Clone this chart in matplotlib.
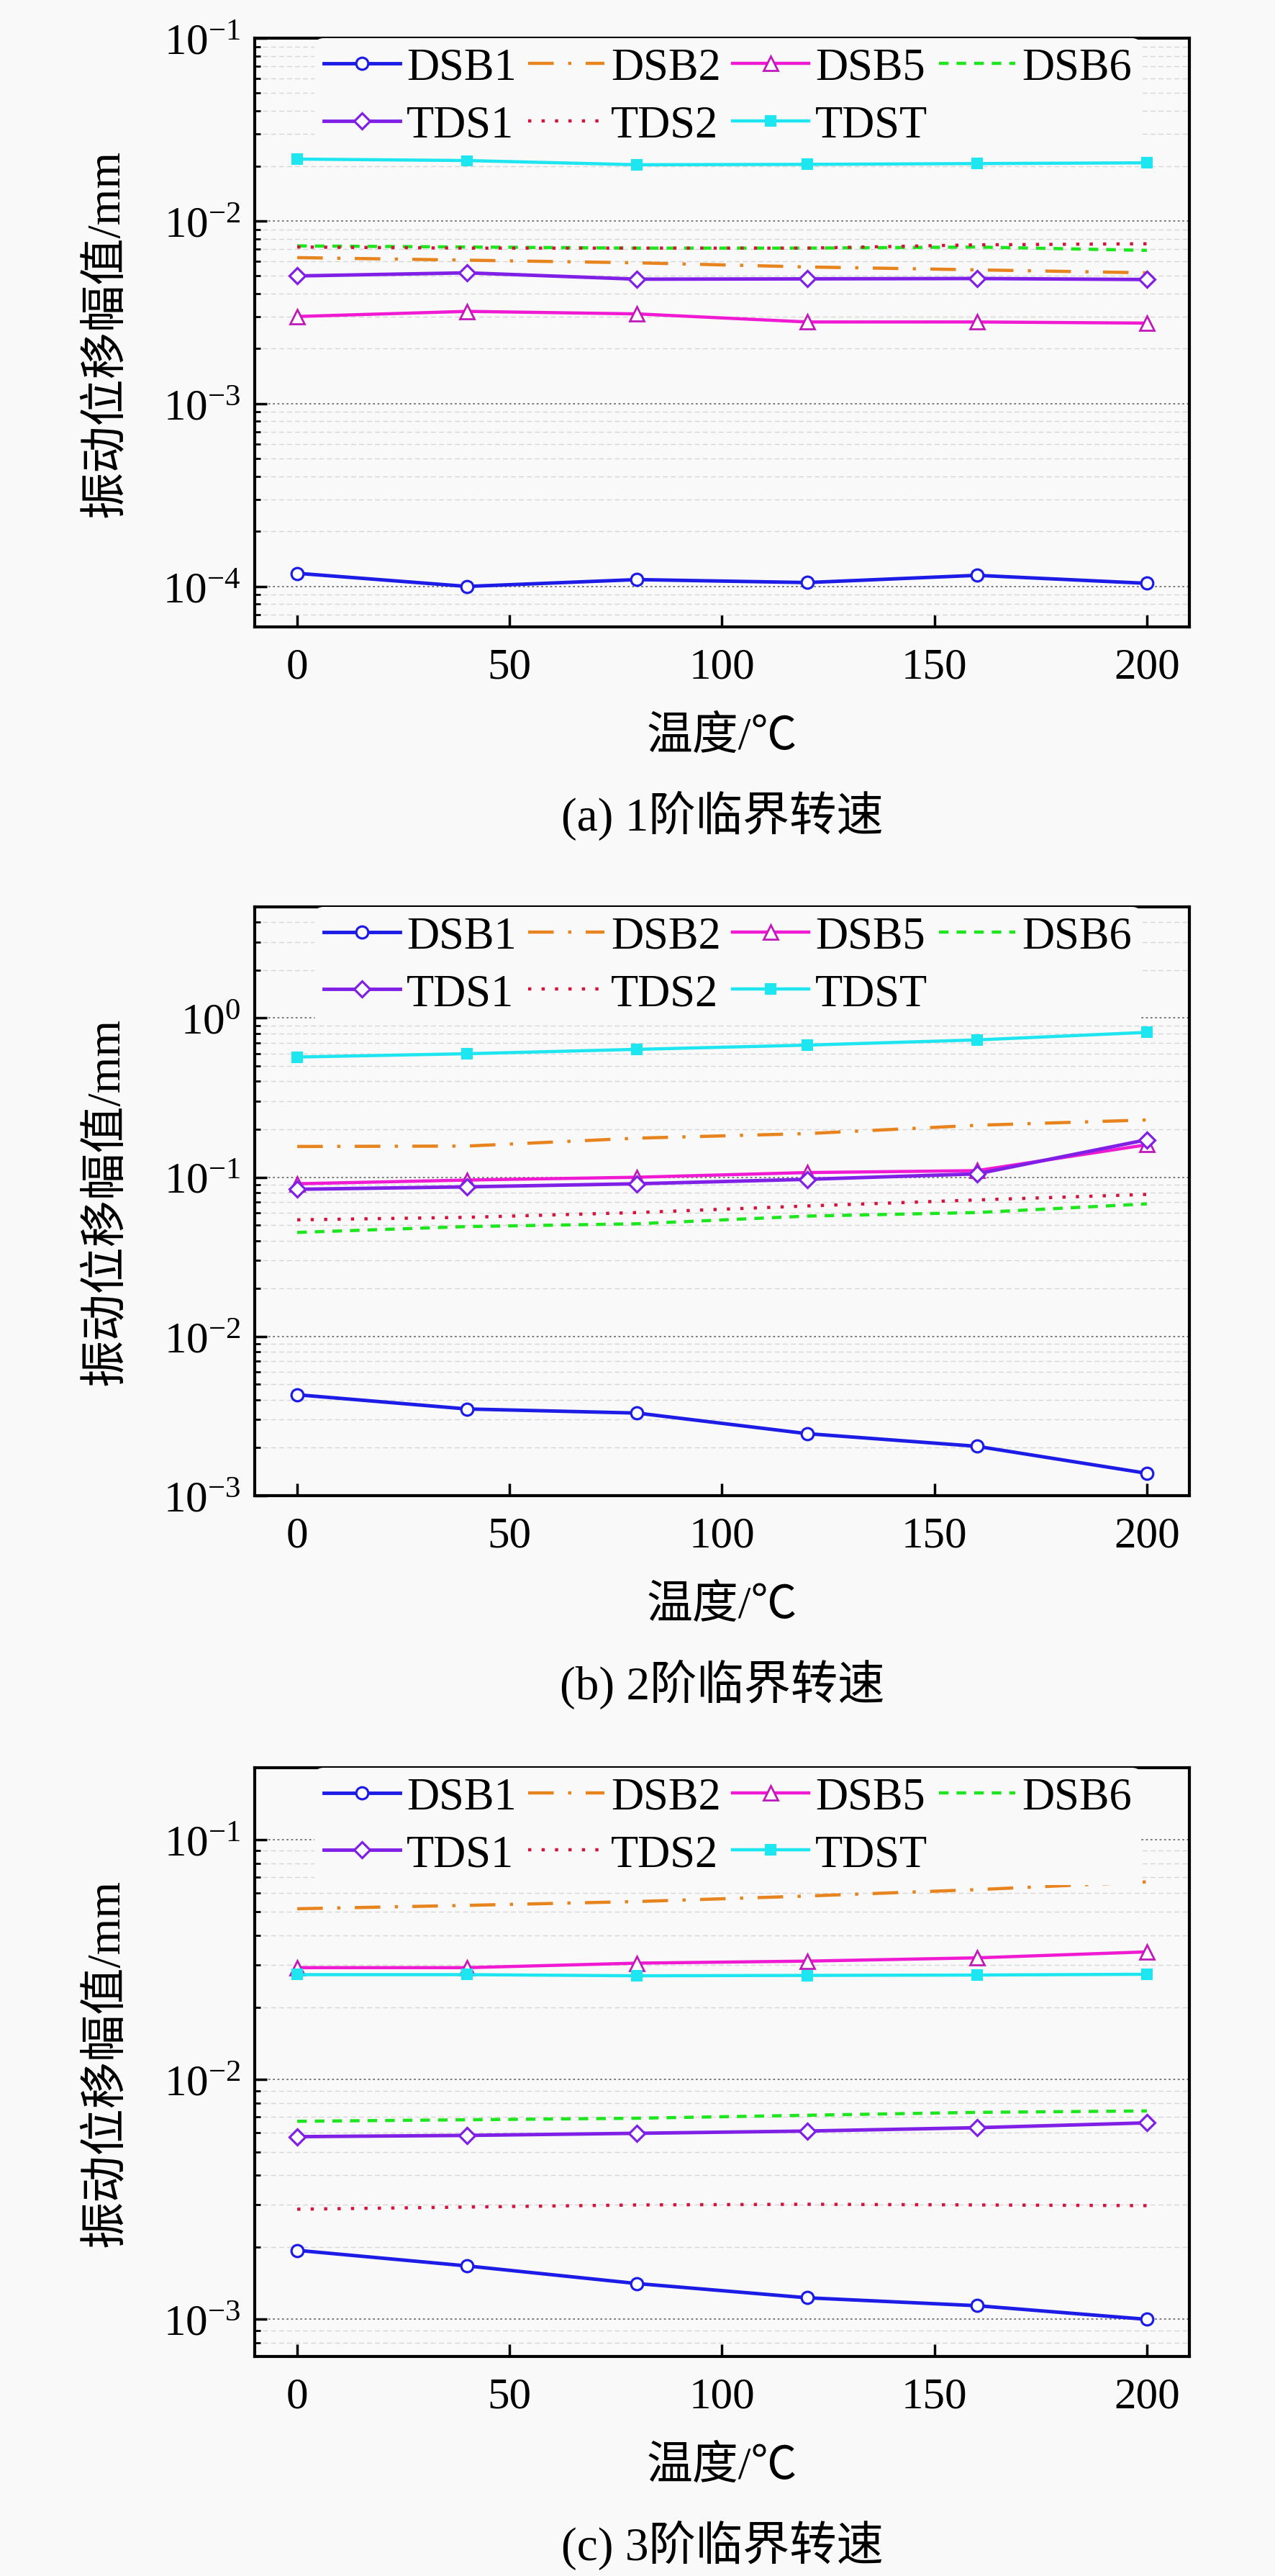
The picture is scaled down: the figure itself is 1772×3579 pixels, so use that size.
import matplotlib
matplotlib.use('Agg')
import matplotlib.pyplot as plt
from matplotlib.ticker import LogLocator, NullFormatter

plt.rcParams['font.family'] = ['Liberation Serif', 'Noto Sans CJK SC']
plt.rcParams['mathtext.fontset'] = 'custom'
plt.rcParams['mathtext.rm'] = 'Liberation Serif'
plt.rcParams['mathtext.it'] = 'Liberation Serif:italic'
plt.rcParams['axes.unicode_minus'] = True

# temperature (deg C)
temps = [0, 40, 80, 120, 160, 200]
names = ['DSB1', 'DSB2', 'DSB5', 'DSB6', 'TDS1', 'TDS2', 'TDST']

# (a) 1st critical speed
m1_dsb1 = [1.18e-4, 1.00e-4, 1.09e-4, 1.05e-4, 1.15e-4, 1.04e-4]
m1_dsb2 = [0.0063, 0.0061, 0.0059, 0.0056, 0.0054, 0.0052]
m1_dsb5 = [0.0030, 0.0032, 0.0031, 0.0028, 0.0028, 0.00276]
m1_dsb6 = [0.0073, 0.0072, 0.0071, 0.0071, 0.0072, 0.0069]
m1_tds1 = [0.0050, 0.0052, 0.0048, 0.00482, 0.00484, 0.00478]
m1_tds2 = [0.0072, 0.0071, 0.0071, 0.0071, 0.0074, 0.0075]
m1_tdst = [0.0218, 0.0214, 0.0203, 0.0204, 0.0206, 0.0208]

# (b) 2nd critical speed
m2_dsb1 = [0.0043, 0.0035, 0.0033, 0.00245, 0.00204, 0.00138]
m2_dsb2 = [0.156, 0.157, 0.176, 0.188, 0.212, 0.229]
m2_dsb5 = [0.091, 0.096, 0.100, 0.107, 0.110, 0.160]
m2_dsb6 = [0.045, 0.049, 0.051, 0.057, 0.060, 0.068]
m2_tds1 = [0.084, 0.087, 0.091, 0.097, 0.105, 0.172]
m2_tds2 = [0.054, 0.056, 0.060, 0.066, 0.072, 0.078]
m2_tdst = [0.569, 0.597, 0.636, 0.676, 0.729, 0.813]

# (c) 3rd critical speed
m3_dsb1 = [0.00194, 0.00167, 0.00141, 0.00123, 0.00114, 0.00100]
m3_dsb2 = [0.0516, 0.0533, 0.0553, 0.0583, 0.0620, 0.0668]
m3_dsb5 = [0.0293, 0.0293, 0.0306, 0.0312, 0.0322, 0.0341]
m3_dsb6 = [0.0067, 0.0068, 0.0069, 0.0071, 0.0073, 0.0074]
m3_tds1 = [0.00578, 0.00585, 0.00597, 0.0061, 0.0063, 0.0066]
m3_tds2 = [0.00288, 0.00294, 0.00300, 0.00302, 0.00300, 0.00298]
m3_tdst = [0.0274, 0.0274, 0.0271, 0.0272, 0.0273, 0.0275]

captions = ['(a) 1阶临界转速', '(b) 2阶临界转速', '(c) 3阶临界转速']
ylims = [(6e-5, 0.1), (1e-3, 5.0), (7e-4, 0.2)]
panels = [
    [m1_dsb1, m1_dsb2, m1_dsb5, m1_dsb6, m1_tds1, m1_tds2, m1_tdst],
    [m2_dsb1, m2_dsb2, m2_dsb5, m2_dsb6, m2_tds1, m2_tds2, m2_tdst],
    [m3_dsb1, m3_dsb2, m3_dsb5, m3_dsb6, m3_tds1, m3_tds2, m3_tdst],
]

bg = '#f9f9f9'
styles = {
    'DSB1': dict(color='#1c1ce6', ls='-', lw=3.5, marker='o', ms=12,
                 mfc='white', mec='#1c1ce6', mew=2.3),
    'DSB2': dict(color='#e8841e', ls=(0, (8, 4.5, 1, 4.5)), lw=3.2),
    'DSB5': dict(color='#f01ad2', ls='-', lw=3.2, marker='^', ms=14,
                 mfc='white', mec='#c01ab8', mew=2.0),
    'DSB6': dict(color='#1ee61e', ls=(0, (3, 2.5)), lw=3.2),
    'TDS1': dict(color='#8020e6', ls='-', lw=3.5, marker='D', ms=11,
                 mfc='white', mec='#8020e6', mew=2.3),
    'TDS2': dict(color='#d4143c', ls=(0, (1, 3.2)), lw=3.2),
    'TDST': dict(color='#1ee6f0', ls='-', lw=3.2, marker='s', ms=10.5,
                 mfc='#1ee6f0', mec='#1ee6f0', mew=1.5),
}

fig = plt.figure(figsize=(17.72, 35.80), dpi=100, facecolor=bg)
left, width = 0.1998, 0.733
bottoms = [0.7564, 0.4193, 0.0852]
height = 0.2285

for i in range(3):
    ax = fig.add_axes([left, bottoms[i], width, height])
    ax.set_facecolor(bg)
    handles = []
    for name, vals in zip(names, panels[i]):
        h, = ax.plot(temps, vals, label=name, **styles[name])
        handles.append(h)
    ax.set_yscale('log')
    ax.set_xlim(-10, 210)
    ax.set_ylim(*ylims[i])
    ax.set_xticks([0, 50, 100, 150, 200])
    ax.yaxis.set_major_locator(LogLocator(base=10, numticks=20))
    ax.yaxis.set_minor_locator(LogLocator(base=10, subs=range(2, 10), numticks=20))
    ax.yaxis.set_minor_formatter(NullFormatter())

    ax.grid(True, which='major', axis='y', ls=(0, (1.5, 2)), color='#707070', lw=1.3)
    ax.grid(True, which='minor', axis='y', ls=(0, (5, 3)), color='#d6d6d6', lw=1.0)
    ax.set_axisbelow(True)

    ax.tick_params(axis='both', which='major', direction='in', length=12,
                   width=2.5, labelsize=44)
    ax.tick_params(axis='x', which='major', pad=20)
    ax.tick_params(axis='y', which='major', pad=14)
    ax.tick_params(axis='y', which='minor', direction='in', length=6, width=2)
    ax.tick_params(axis='x', which='minor', bottom=False)
    for sp in ax.spines.values():
        sp.set_linewidth(3)

    ax.set_xlabel('温度/℃', fontsize=46)
    ax.xaxis.label.set_va('center')
    ax.xaxis.set_label_coords(0.5, -0.187)
    ax.set_ylabel('振动位移幅值/mm', fontsize=47)
    ax.yaxis.label.set_va('center')
    ax.yaxis.set_label_coords(-0.158, 0.5)

    ax.text(0.5, -0.32, captions[i], transform=ax.transAxes, ha='center',
            va='center', fontsize=47)

    # legend fills column-wise, reorder so rows read DSB1..DSB6 / TDS1..TDST
    order = [0, 4, 1, 5, 2, 6, 3]
    leg = ax.legend([handles[k] for k in order], [names[k] for k in order],
                    ncol=4, loc='upper left', bbox_to_anchor=(0.064, 1.0),
                    frameon=True, facecolor=bg, edgecolor='none', framealpha=1,
                    fontsize=45, handlelength=1.7, handletextpad=0.15,
                    columnspacing=0.25, labelspacing=0.35, borderpad=0.2,
                    borderaxespad=0, numpoints=1)

fig.savefig('out.png', dpi=100, facecolor=bg)
